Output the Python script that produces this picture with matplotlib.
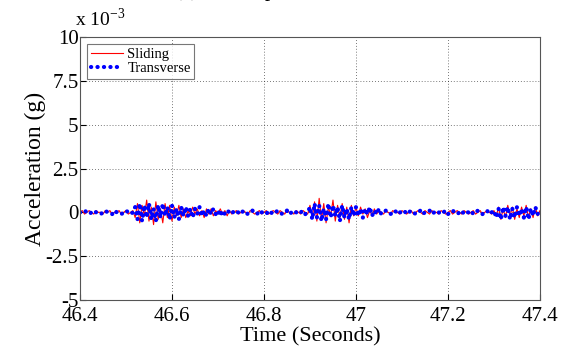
import numpy as np
import matplotlib
matplotlib.use("Agg")
import matplotlib.pyplot as plt

plt.rcParams['font.family'] = ['Liberation Serif', 'DejaVu Serif']
plt.rcParams['axes.unicode_minus'] = False
plt.rcParams['mathtext.fontset'] = 'custom'
plt.rcParams['mathtext.rm'] = 'Liberation Serif'

# time axis, 5 ms steps
t_start = 46.4
dt = 0.005

# accelerations in units of 1e-4 g
sliding = [0, 1, -1, 0, 1, 0, -1, 1, 0, 0, -1, 1, 0, 1, -1, 0, 0, 1, -1, 0, 1, -1, 0, 1,
           -3, 5, -6, 4, -2, 7, -5, 3, -7, 6, -4, 2, -6, 5, -3, 4, -5, 3, -2, 4, -3,
           2, -3, 1, -2, 3, -1, 2, -2, 1, -3, 2, -1, 2, -2, 1, -1, 2, -1, 1, -2,
           1, -1, 0, 1, -1, 0, 1, 0, -1, 1, 0, -1, 0, 1, -1, 0, 1, -1, 0, 1, 0, -1, 1, 0, -1, 1, 0, 0, -1, 1, 0, -1, 1, 0, -1,
           4, -3, 6, -5, 8, -4, 5, -6, 3, -2, 7, -5, 4, -3, 5, -4, 3, -6, 4, -2, 3,
           -2, 3, -1, 2, -3, 1, -2, 2, -1, 1,
           0, -1, 1, 0, -1, 1, 0, 0, -1, 1, 0, -1, 0, 1, -1, 0, 1, 0, -1, 1, 0, -1, 1, 0, 0,
           -1, 1, 0, -1, 0, 1, -1, 0, 1, 0, -1, 1, 0, -1, 0, 1, -1, 0, 1, -1, 0, 1, 0, -1, 1,
           -2, 3, -4, 2, -3, 4, -2, 3, -4, 2, -3, 3, -2, 4, -3, 2, -3, 3, -2, 1]

transverse = [0, 0, 1, 0, -1, 0, 1, 0, 0, -1, 0, 1, 0, 0, -1, 1, 0, 0, -1, 0, 1, 0, -1, 0,
              3, -4, 5, -5, 4, -3, 5, -4, 2, -5, 4, -3, 5, -2, 3, -4, 4, -3, 2, -4, 3,
              -2, 3, -2, 2, -3, 2, -1, 3, -2, 1, -2, 2, -1, 2, -1, 1, -2, 1, -1, 1,
              0, -1, 1, 0, 0, -1, 1, 0, -1, 0, 1, 0, -1, 1, 0, 0, -1, 1, 0, -1, 0, 1, 0, -1, 0, 1, -1, 0, 1, 0, -1, 0, 1, -1, 0,
              3, -4, 5, -3, 4, -5, 2, -4, 5, -3, 4, -2, 3, -5, 4, -3, 2, -4, 3, -2, 3,
              -2, 2, -3, 2, -1, 3, -2, 1, -1, 2,
              -1, 0, 1, 0, -1, 0, 1, -1, 0, 0, 1, -1, 0, 1, 0, -1, 0, 1, -1, 0, 0, 1, -1, 0, 1,
              0, -1, 0, 1, -1, 0, 1, 0, -1, 0, 1, -1, 0, 0, 1, -1, 0, 1, 0, -1, 0, 1, -1, 0, 1,
              -3, 2, -4, 3, -2, 3, -4, 2, -3, 3, -2, 2, -3, 3, -4, 2, -2, 3, -1, 2]

xticks = [46.4, 46.6, 46.8, 47.0, 47.2, 47.4]
xticklabels = ['46.4', '46.6', '46.8', '47', '47.2', '47.4']
yticks = [10, 7.5, 5, 2.5, 0, -2.5, -5]
yticklabels = ['10', '7.5', '5', '2.5', '0', '-2.5', '-5']

t = t_start + dt * np.arange(len(sliding))
# convert 1e-4 g to 1e-3 g (axis multiplier)
s = np.array(sliding) / 10.0
tr = np.array(transverse) / 10.0

fig = plt.figure(figsize=(5.66, 3.54), dpi=100)
ax = fig.add_axes([0.1413, 0.1525, 0.8127, 0.743])

ax.plot(t, s, color='red', lw=0.8, label='Sliding')
ax.plot(t, tr, color='blue', lw=3.0, linestyle=(0, (0.05, 1.5)),
        dash_capstyle='round', label='Transverse')

ax.set_xlim(46.4, 47.4)
ax.set_ylim(-5, 10)
ax.set_xticks(xticks)
ax.set_xticklabels(xticklabels)
ax.set_yticks(yticks)
ax.set_yticklabels(yticklabels)
ax.tick_params(direction='in', labelsize=15, length=4)
ax.tick_params(axis='x', pad=5)
ax.tick_params(axis='y', pad=1)
ax.grid(True, color='black', linestyle=(0, (1, 2.5)), linewidth=0.6, alpha=0.7)
for sp in ax.spines.values():
    sp.set_color('#555555')

ax.set_xlabel('Time (Seconds)', fontsize=16, labelpad=1)
ax.set_ylabel('Acceleration (g)', fontsize=17, labelpad=0)

fig.text(0.133, 0.915, r'x 10$^{\mathrm{-3}}$', fontsize=14, ha='left', va='bottom')
fig.text(0.31, 1.012, '(c) Undamped', fontsize=15, ha='left', va='baseline')

leg = ax.legend(loc='upper left', fontsize=10.5, frameon=True, fancybox=False,
                edgecolor='#555555', borderaxespad=0.5, handlelength=2.2,
                handletextpad=0.3, borderpad=0.25, labelspacing=0.05)
leg.get_frame().set_linewidth(0.8)

fig.savefig('out.png', dpi=100)
